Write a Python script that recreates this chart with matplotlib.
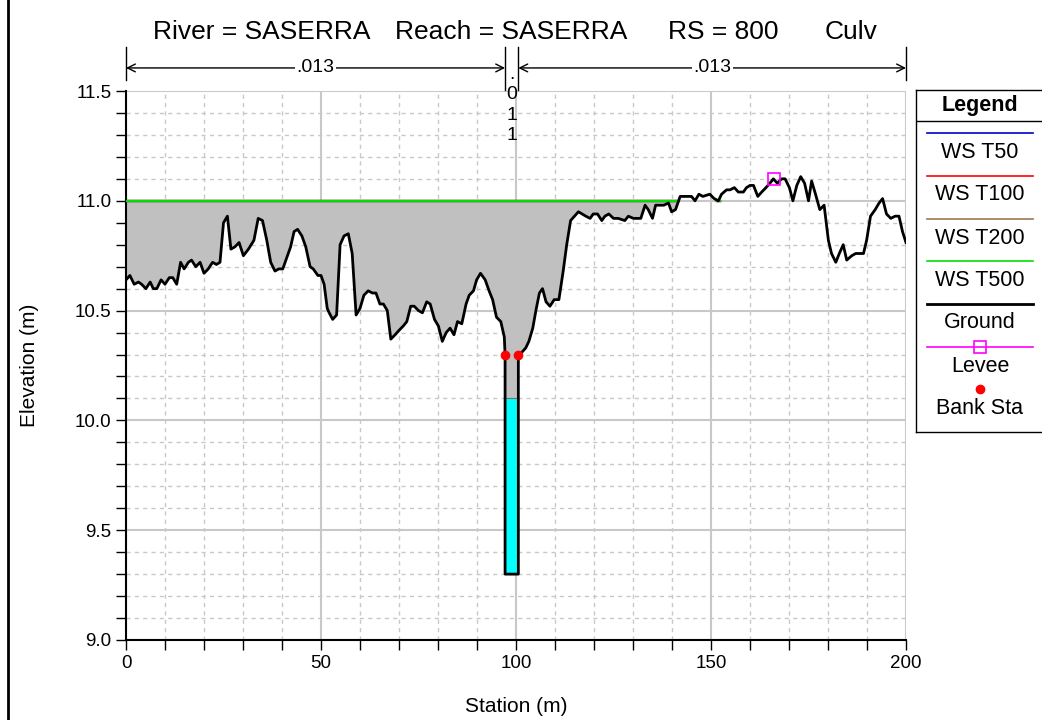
import numpy as np
import matplotlib
matplotlib.use("Agg")
import matplotlib.pyplot as plt
from matplotlib.ticker import MultipleLocator, FormatStrFormatter

plt.rcParams['font.family'] = ['Liberation Sans', 'DejaVu Sans']

# ----------------------------------------------------------------------
station = [0.0, 1.0, 2.1, 3.2, 4.0, 5.1, 6.2, 7.0, 7.9, 9.0, 10.0, 11.1, 12.0,
           13.0, 14.0, 14.9, 16.0, 16.8, 17.9, 19.0, 20.0, 21.1, 22.2, 23.2,
           24.1, 25.0, 26.0, 26.9, 27.9, 29.0, 30.1, 31.4, 32.8, 33.9, 35.0,
           36.1, 37.1, 38.2, 39.2, 40.2, 41.2, 42.2, 43.1, 44.0, 45.1, 46.1,
           47.2, 48.0, 49.2, 50.0, 50.8, 51.6, 52.1, 53.0, 54.0, 54.9, 55.9,
           57.0, 58.0, 59.0, 60.0, 61.0, 62.1, 63.2, 64.1, 65.1, 66.0, 67.0,
           67.9, 69.0, 70.0, 71.1, 72.0, 73.0, 73.9, 75.0, 76.0, 77.1, 78.0,
           79.1, 80.1, 81.1, 82.1, 83.1, 84.1, 85.0, 86.1, 87.2, 88.0, 89.1,
           89.9, 90.9, 92.1, 93.1, 94.0, 95.0, 96.1, 97.0, 97.2, 97.2, 100.6,
           100.6, 101.5, 102.5, 103.3, 104.3, 105.1, 106.0, 106.8, 107.7,
           108.7, 109.8, 111.0, 112.1, 113.0, 114.0, 116.0, 117.9, 119.0,
           119.8, 120.9, 122.0, 122.8, 123.8, 125.0, 126.2, 127.9, 128.8,
           130.1, 131.4, 132.0, 133.1, 133.9, 135.0, 135.8, 136.7, 137.9,
           139.1, 139.9, 140.9, 142.1, 143.3, 145.0, 145.9, 146.9, 147.9,
           149.7, 150.8, 151.9, 152.7, 154.0, 154.9, 156.0, 157.0, 158.3,
           159.1, 160.0, 160.9, 162.0, 163.0, 164.1, 165.1, 166.0, 167.0,
           168.1, 169.0, 170.1, 171.0, 172.0, 173.0, 174.0, 175.0, 175.8,
           176.8, 177.9, 179.0, 180.1, 180.9, 182.0, 182.9, 183.9, 184.8,
           186.1, 187.1, 188.2, 189.1, 189.9, 190.9, 192.1, 193.1, 194.0,
           195.0, 196.1, 197.2, 198.2, 199.1, 200.0]
elevation = [10.64, 10.66, 10.62, 10.63, 10.62, 10.60, 10.63, 10.60, 10.60,
             10.64, 10.62, 10.65, 10.65, 10.62, 10.72, 10.69, 10.72, 10.73,
             10.70, 10.72, 10.67, 10.69, 10.72, 10.71, 10.72, 10.90, 10.93,
             10.78, 10.79, 10.81, 10.75, 10.78, 10.82, 10.92, 10.91, 10.82,
             10.72, 10.68, 10.69, 10.69, 10.74, 10.79, 10.86, 10.87, 10.84,
             10.79, 10.70, 10.69, 10.66, 10.66, 10.62, 10.51, 10.49, 10.46,
             10.48, 10.80, 10.84, 10.85, 10.76, 10.48, 10.51, 10.57, 10.59,
             10.58, 10.58, 10.53, 10.53, 10.50, 10.37, 10.39, 10.41, 10.43,
             10.45, 10.52, 10.52, 10.50, 10.49, 10.54, 10.53, 10.46, 10.43,
             10.36, 10.40, 10.42, 10.39, 10.45, 10.44, 10.53, 10.57, 10.59,
             10.64, 10.67, 10.64, 10.59, 10.55, 10.47, 10.45, 10.38, 10.30,
             9.30, 9.30, 10.30, 10.31, 10.33, 10.36, 10.42, 10.50, 10.58,
             10.60, 10.54, 10.52, 10.55, 10.55, 10.68, 10.80, 10.91, 10.95,
             10.93, 10.92, 10.94, 10.94, 10.91, 10.93, 10.94, 10.92, 10.92,
             10.91, 10.93, 10.92, 10.92, 10.92, 10.98, 10.96, 10.92, 10.98,
             10.98, 10.98, 10.99, 10.95, 10.96, 11.02, 11.02, 11.02, 11.00,
             11.03, 11.02, 11.03, 11.01, 11.00, 11.03, 11.05, 11.05, 11.06,
             11.04, 11.04, 11.06, 11.07, 11.07, 11.02, 11.04, 11.06, 11.08,
             11.10, 11.08, 11.10, 11.10, 11.06, 11.00, 11.07, 11.11, 11.08,
             11.00, 11.09, 11.03, 10.96, 10.98, 10.82, 10.76, 10.72, 10.76,
             10.80, 10.73, 10.75, 10.76, 10.76, 10.76, 10.82, 10.93, 10.96,
             10.99, 11.01, 10.94, 10.92, 10.93, 10.93, 10.86, 10.81]

WS_ELEV = 11.0
ws_names = ["WS T50", "WS T100", "WS T200", "WS T500"]
ws_colors = ["#0000c8", "#ff0000", "#a07850", "#00e000"]
ws_extents = [(0.0, 141.6), (151.5, 152.3)]

culvert_sta = [97.2, 100.6]
culvert_invert = 9.3
culvert_top = 10.1

bank_sta = [97.2, 100.6]
bank_elev = [10.30, 10.30]
levee_sta = [166.1]
levee_elev = [11.10]

n_breaks = [0.0, 97.2, 100.6, 200.0]
n_values = [".013", ".011", ".013"]

title_parts = ["River = SASERRA", "Reach = SASERRA", "RS = 800", "Culv"]
title_x = [153, 395, 668, 825]
# ----------------------------------------------------------------------

W, H = 1042, 720
fig = plt.figure(figsize=(W / 100, H / 100), dpi=100)
ax = fig.add_axes([126 / W, 1 - 640 / H, 780 / W, 549 / H])

sta = np.array(station)
elev = np.array(elevation)

# water only in the wetted reach that holds the channel
wet = (elev <= WS_ELEV) & (sta >= ws_extents[0][0]) & (sta <= ws_extents[0][1])
ax.fill_between(sta, elev, WS_ELEV, where=wet, interpolate=True,
                color="#c0c0c0", lw=0, zorder=2)
ax.fill_between(culvert_sta, culvert_invert, culvert_top, color="#00ffff",
                lw=0, zorder=3)
ax.plot(culvert_sta, [culvert_top, culvert_top], color="#707070", lw=0.8, zorder=3)
for name, col in zip(ws_names, ws_colors):
    for a, b in ws_extents:
        ax.plot([a, b], [WS_ELEV, WS_ELEV], color=col, lw=1.6, zorder=4)
ax.plot(sta, elev, color="black", lw=2.0, zorder=5)
ax.plot(levee_sta, levee_elev, ls="none", marker="s", ms=8, mfc="none",
        mec="#ff00ff", mew=1.2, zorder=6)
ax.plot(bank_sta, bank_elev, ls="none", marker="o", ms=6, color="red", zorder=6)

ax.set_xlim(0, 200)
ax.set_ylim(9.0, 11.5)
ax.xaxis.set_major_locator(MultipleLocator(50))
ax.xaxis.set_minor_locator(MultipleLocator(10))
ax.yaxis.set_major_locator(MultipleLocator(0.5))
ax.yaxis.set_minor_locator(MultipleLocator(0.1))
ax.yaxis.set_major_formatter(FormatStrFormatter("%.1f"))
ax.set_axisbelow(True)
ax.grid(which="major", color="#c8c8c8", lw=1.5, ls="-")
ax.grid(which="minor", color="#c8c8c8", lw=1.0, ls=(0, (3, 3)))
ax.tick_params(which="both", direction="out", length=7, width=1, color="black",
               labelsize=13.5)
for s in ["top", "right"]:
    ax.spines[s].set_visible(False)
for s in ["left", "bottom"]:
    ax.spines[s].set_linewidth(1.5)
ax.set_xlabel("Station (m)", fontsize=15, labelpad=18)
ax.set_ylabel("Elevation (m)", fontsize=15, labelpad=26)

# n-value bar above the plot
y_arrow = 11.605
for i in range(len(n_values)):
    a, b = n_breaks[i], n_breaks[i + 1]
    if b - a > 10:
        ax.annotate("", xy=(a, y_arrow), xytext=(b, y_arrow),
                    arrowprops=dict(arrowstyle="<->", lw=1.0, color="black",
                                    shrinkA=0, shrinkB=0, mutation_scale=14),
                    annotation_clip=False)
        ax.text((a + b) / 2, y_arrow, n_values[i], ha="center", va="center",
                fontsize=14, clip_on=False,
                bbox=dict(facecolor="white", edgecolor="none", pad=1))
    else:
        ax.text((a + b) / 2, 11.615, "\n".join(n_values[i]), ha="center",
                va="top", fontsize=14, linespacing=1.27, clip_on=False)
for i, x in enumerate(n_breaks):
    lo = 11.505 if 0 < i < len(n_breaks) - 1 else 11.55
    ax.plot([x, x], [lo, 11.70], color="black", lw=1.0, clip_on=False)

for txt, x in zip(title_parts, title_x):
    fig.text(x / W, 1 - 32 / H, txt, ha="left", va="center", fontsize=19)

# left frame line
fig.add_artist(plt.Line2D([8 / W, 8 / W], [0, 1], color="black", lw=2))

# legend panel
leg = fig.add_axes([916 / W, 1 - 432 / H, 140 / W, 342 / H])
leg.set_xlim(916, 1056)
leg.set_ylim(432, 90)
leg.set_xticks([])
leg.set_yticks([])
for s in leg.spines.values():
    s.set_linewidth(1.0)
leg.text(980, 105, "Legend", ha="center", va="center", fontsize=15.5,
         fontweight="bold")
leg.plot([916, 1056], [121, 121], color="black", lw=1.0)
entry_y = [133, 176, 219, 261, 304, 347, 389]
entry_names = ws_names + ["Ground", "Levee", "Bank Sta"]
for k, (name, y) in enumerate(zip(entry_names, entry_y)):
    if k < 4:
        leg.plot([927, 1033], [y, y], color=ws_colors[k], lw=1.2)
    elif name == "Ground":
        leg.plot([927, 1033], [y, y], color="black", lw=2.0)
    elif name == "Levee":
        leg.plot([927, 1033], [y, y], color="#ff00ff", lw=1.2)
        leg.plot([980], [y], marker="s", ms=8, mfc="none", mec="#ff00ff", mew=1.2)
    else:
        leg.plot([980], [y], marker="o", ms=6, color="red")
    leg.text(980, y + 19, name, ha="center", va="center", fontsize=15.5)

fig.savefig("out.png", dpi=100)
